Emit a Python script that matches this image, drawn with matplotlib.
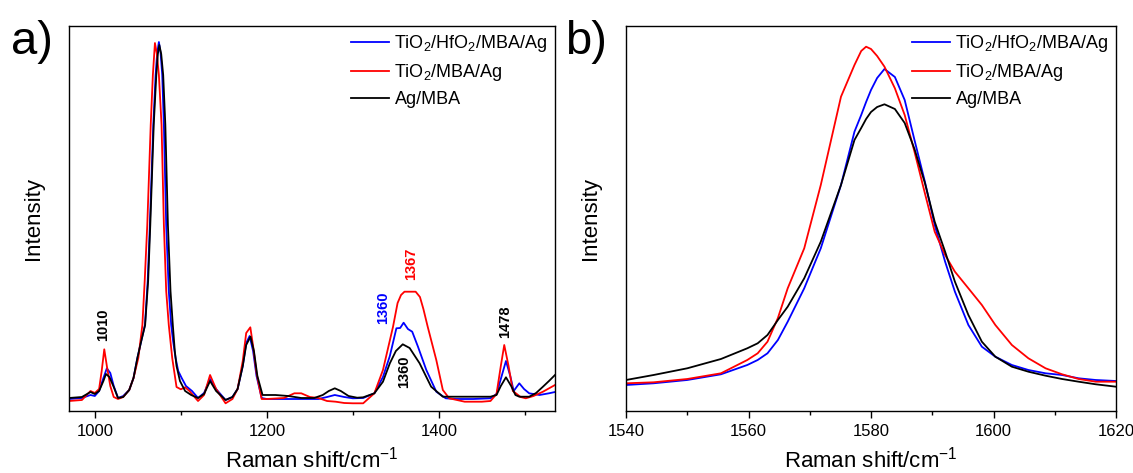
import matplotlib
matplotlib.use("Agg")
import matplotlib.pyplot as plt
from matplotlib.ticker import MultipleLocator, NullLocator

plt.rcParams['font.family'] = ['Liberation Sans', 'DejaVu Sans']
plt.rcParams['mathtext.fontset'] = 'custom'
plt.rcParams['mathtext.rm'] = 'Liberation Sans'

labels = ["TiO$\\mathregular{_2}$/HfO$\\mathregular{_2}$/MBA/Ag",
          "TiO$\\mathregular{_2}$/MBA/Ag",
          "Ag/MBA"]
colors = ["#0000ff", "#ff0000", "#000000"]

# ---- panel a: full spectrum ----
a_blue_x = [970, 985, 995, 1000, 1005, 1010, 1014, 1018, 1022, 1027, 1033, 1040, 1045, 1049.5, 1054,
            1058.3, 1061.5, 1064, 1068, 1070.7, 1072.5, 1074.5, 1076.5, 1078.4, 1080.3, 1083, 1086,
            1088.8, 1091, 1093.9, 1097, 1101, 1106, 1113, 1120, 1127, 1134, 1141, 1152, 1160, 1166,
            1172, 1176, 1180, 1184, 1188, 1194, 1200, 1220, 1240, 1260, 1270, 1279, 1290, 1300,
            1312, 1325, 1335, 1343, 1350.6, 1355, 1359, 1364, 1369, 1375.7, 1385.4, 1397, 1408,
            1420, 1440, 1460, 1467, 1472, 1478, 1483, 1487, 1493.5, 1499, 1505, 1517, 1528, 1535]
a_blue_y = [12, 13, 16, 15, 20, 33, 42.7, 38, 25, 13, 15, 21, 33, 53, 70,
            86, 130, 186, 286, 336, 358, 369, 358, 336, 286, 186, 120,
            86, 70, 53, 40, 33, 25, 20, 13, 18, 32, 22, 11, 14, 22,
            45, 68, 75, 60, 35, 13, 12, 12, 12, 12, 14, 16, 14, 12.7,
            13, 17.7, 34, 55, 82.7, 83, 88.3, 82, 79.3, 64.3, 41, 19.3, 12.7,
            12, 12, 12.7, 17, 32, 50, 35, 20, 27.7, 22, 17.7, 16, 17.7, 19]

a_red_x = [970, 985, 995, 1000, 1005, 1008, 1011, 1014, 1018, 1022, 1027, 1033, 1040, 1045, 1050.6,
           1055.3, 1058, 1061, 1065, 1067.5, 1069.9, 1072, 1074.5, 1077.6, 1080.3, 1083, 1086,
           1090, 1095, 1100, 1105, 1110, 1120, 1127, 1134, 1141, 1152, 1160, 1166, 1172, 1176,
           1180.8, 1184, 1188, 1194, 1200, 1220, 1232, 1240, 1250, 1260, 1270, 1280, 1290, 1300,
           1312, 1325, 1335, 1346.7, 1352, 1356, 1360, 1367, 1373, 1378, 1382, 1387, 1397,
           1404.6, 1412, 1430, 1450, 1460, 1467, 1472, 1476, 1481, 1486, 1489.5, 1495, 1501,
           1510, 1521, 1535]
a_red_y = [10, 11, 20, 18, 22, 40, 61.7, 45, 25, 14, 12, 14, 21, 33, 53,
           86, 130, 186, 286, 336, 368, 358, 336, 286, 186, 120, 86,
           53, 24, 21.7, 23.7, 20, 10, 16, 36, 22, 7.7, 12, 22, 50, 78,
           83.7, 65, 38, 12, 12, 13, 17.7, 17.7, 14, 13, 10, 9.3, 8, 7.7,
           7.7, 17.7, 41, 84.3, 108, 116, 119.3, 119.3, 119.3, 114, 102, 84.3, 51,
           21, 12.7, 9.3, 9.3, 10, 17, 45, 66, 45, 20, 17.7, 14, 12.7,
           15, 19.3, 26]

a_black_x = [970, 985, 995, 1000, 1005, 1010, 1013, 1017, 1022, 1027, 1033, 1040, 1045, 1049.5, 1054,
             1058.5, 1062, 1064.5, 1068.5, 1071.5, 1073.3, 1075, 1077.2, 1079.5, 1082, 1085, 1088,
             1090.7, 1093, 1095, 1099, 1105, 1112, 1120, 1127, 1134, 1141, 1152, 1160, 1166,
             1172, 1176, 1181, 1185, 1189, 1195, 1210, 1225, 1240, 1255, 1265, 1272, 1279, 1286,
             1295, 1305, 1312, 1325, 1335, 1343, 1350, 1358, 1366, 1377.6, 1391, 1404.6, 1420,
             1440, 1460, 1467, 1472, 1478, 1484, 1489, 1493.5, 1505, 1513, 1521, 1528, 1535]
a_black_y = [13, 14, 19, 17, 20, 30, 37, 34, 24, 13, 14, 21, 33, 53, 70,
             86, 130, 186, 286, 336, 357, 366, 357, 336, 286, 186, 120,
             86, 60, 45, 30, 20, 16, 13, 17, 30, 20, 11, 14, 22,
             45, 66, 74.3, 60, 35, 16, 16, 15, 13, 13, 16, 20, 22.7, 20,
             15, 13.3, 13.7, 17.7, 29.3, 47.7, 60, 66.7, 63, 47.7, 24.3, 14.3, 14.3,
             14.3, 14.3, 16, 25, 33.7, 25, 16, 14.3, 14.3, 18, 24.3, 30, 36]

# peak labels: (text, x, y, colour)
a_peaks = [("1010", 1010, 86, "#000000"),
           ("1360", 1335, 103, "#0000ff"),
           ("1367", 1368, 147, "#ff0000"),
           ("1360", 1360, 39, "#000000"),
           ("1478", 1477, 89, "#000000")]

# ---- panel b: zoom on the 1580 band ----
b_x = [1540, 1544.5, 1550, 1555.5, 1559.8, 1561.5, 1563.1, 1564.8, 1566.4, 1569.1, 1571.8,
       1575.1, 1577.3, 1578.4, 1579.2, 1580, 1581, 1582.2, 1583.9, 1585.5, 1587.1, 1588.8,
       1590.4, 1592.1, 1593.7, 1595.9, 1598.1, 1600.3, 1603, 1605.7, 1608.5, 1611.2, 1613.9,
       1616.7, 1620]
b_blue = [26, 27.7, 31, 36.7, 46, 51, 57.7, 71, 89.3, 122.7, 162.7,
          226, 279.3, 296, 309, 321, 333, 342, 334, 311, 271, 229.3,
          186, 149.3, 119.3, 86, 64.3, 54.3, 46, 41, 37.7, 36, 32.7,
          31, 30]
b_red = [27.7, 28.7, 32, 37.7, 51, 57.7, 69.3, 93, 122.7, 162.7, 226,
         314.3, 346, 360, 364.3, 362, 355, 344.3, 322.7, 296, 259.3, 217.7,
         179.3, 156, 139.3, 122.7, 106, 86, 66, 52.7, 42.7, 36.7, 32,
         29.3, 29.3]
b_black = [31, 36, 42.7, 52, 62.7, 67.7, 76, 91, 104.3, 132.7, 169.3,
           226, 271, 283, 292, 299, 304, 306.7, 302, 288, 262, 228,
           189.3, 159.3, 129.3, 96, 69.3, 54.3, 44.3, 39.3, 35.3, 32, 29.3,
           26.7, 24.3]

W, H = 1133, 473
fig = plt.figure(figsize=(W / 100, H / 100), dpi=100)


def px_axes(l, r, t, b):
    return fig.add_axes([l / W, 1 - b / H, (r - l) / W, (b - t) / H])


def style(ax, major, minor):
    ax.xaxis.set_major_locator(MultipleLocator(major))
    ax.xaxis.set_minor_locator(MultipleLocator(minor))
    ax.yaxis.set_major_locator(NullLocator())
    ax.tick_params(axis='x', which='major', direction='out', length=5, width=1,
                   labelsize=12, pad=4)
    ax.tick_params(axis='x', which='minor', direction='out', length=3, width=1)
    ax.tick_params(top=False, right=False)
    for s in ax.spines.values():
        s.set_linewidth(1.0)
    ax.set_xlabel("Raman shift/cm$\\mathregular{^{-1}}$", fontsize=16, labelpad=6)
    ax.set_ylabel("Intensity", fontsize=16, labelpad=18)
    ax.legend(frameon=False, loc='upper right', fontsize=13, handlelength=2.1,
              handletextpad=0.3, labelspacing=0.45, borderaxespad=0.1,
              borderpad=0.3)


ax1 = px_axes(69, 555, 26, 411)
ax1.plot(a_blue_x, a_blue_y, color=colors[0], lw=1.3, label=labels[0])
ax1.plot(a_red_x, a_red_y, color=colors[1], lw=1.3, label=labels[1])
ax1.plot(a_black_x, a_black_y, color=colors[2], lw=1.3, label=labels[2])
for txt, x, y, c in a_peaks:
    ax1.text(x, y, txt, rotation=90, color=c, fontsize=10.5, fontweight='bold',
             ha='center', va='center')
ax1.set_xlim(970, 1535)
ax1.set_ylim(0, 385)
style(ax1, 200, 100)

ax2 = px_axes(626, 1116, 26, 411)
ax2.plot(b_x, b_blue, color=colors[0], lw=1.3, label=labels[0])
ax2.plot(b_x, b_red, color=colors[1], lw=1.3, label=labels[1])
ax2.plot(b_x, b_black, color=colors[2], lw=1.3, label=labels[2])
ax2.set_xlim(1540, 1620)
ax2.set_ylim(0, 385)
style(ax2, 20, 10)

fig.text(11 / W, 1 - 42 / H, "a)", fontsize=34, va='center', ha='left')
fig.text(565 / W, 1 - 42 / H, "b)", fontsize=34, va='center', ha='left')

fig.savefig("out.png", dpi=100)
